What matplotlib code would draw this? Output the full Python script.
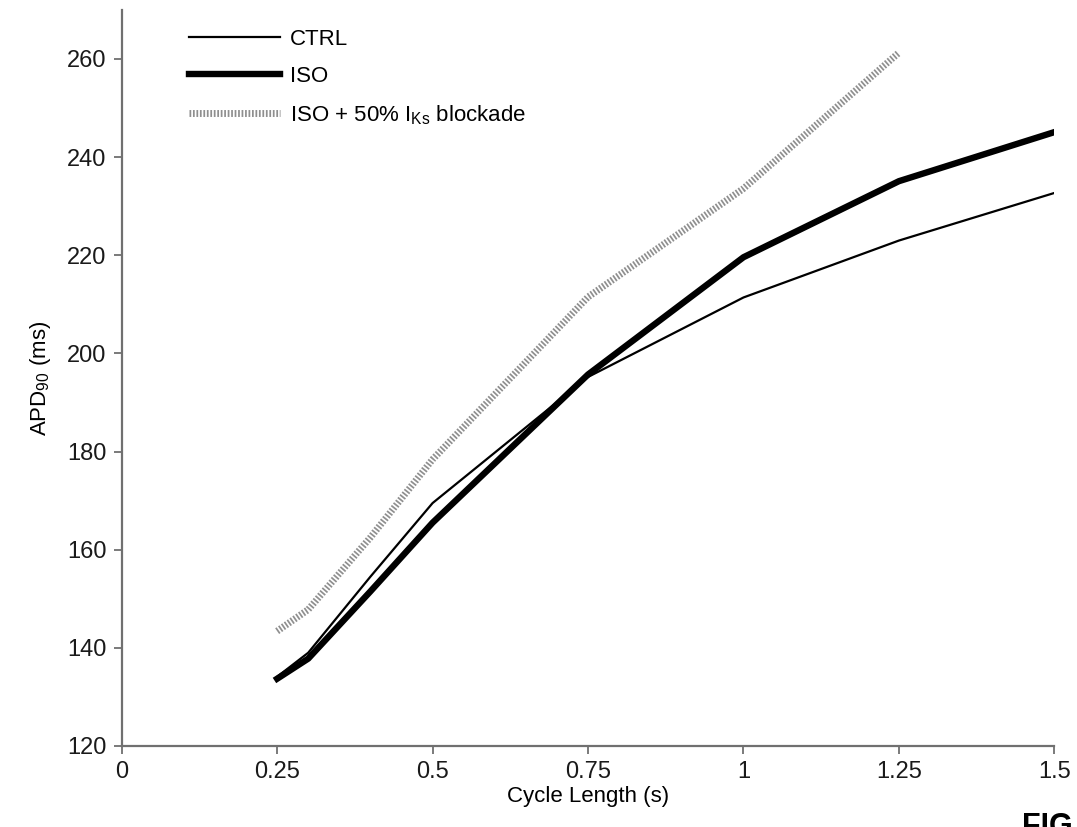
import numpy as np
from matplotlib import pyplot as plt

plt.rcParams['font.family'] = ['Liberation Sans', 'DejaVu Sans']
plt.rcParams['mathtext.default'] = 'regular'

# Cycle length (s) and APD90 (ms)
cycle_len = [0.25, 0.3, 0.4, 0.5, 0.75, 1.0, 1.25, 1.5]
apd_ctrl = [134.1, 139.0, 154.5, 169.5, 195.2, 211.4, 223.0, 232.7]
apd_iso = [133.7, 137.8, 151.5, 165.5, 195.7, 219.6, 235.1, 245.1]

cycle_len_blk = [0.25, 0.3, 0.4, 0.5, 0.75, 1.0, 1.25]
apd_iso_blk = [143.4, 147.8, 162.5, 178.4, 211.5, 233.6, 261.3]

x_ticks = [0, 0.25, 0.5, 0.75, 1, 1.25, 1.5]
x_tick_labels = ['0', '0.25', '0.5', '0.75', '1', '1.25', '1.5']
y_ticks = [120, 140, 160, 180, 200, 220, 240, 260]

fig = plt.figure(figsize=(10.77, 8.27), dpi=100)
ax = fig.add_axes([0.113, 0.098, 0.866, 0.890])

ax.plot(cycle_len, apd_ctrl, color='black', linewidth=1.6, label='CTRL')
ax.plot(cycle_len, apd_iso, color='black', linewidth=4.6, label='ISO')
ax.plot(cycle_len_blk, apd_iso_blk, color='#8f8f8f', linewidth=5,
        linestyle=(0, (0.25, 0.25)), dash_capstyle='butt',
        label='ISO + 50% I$_{Ks}$ blockade')

ax.set_xlim(0, 1.5)
ax.set_ylim(120, 270)
ax.set_xticks(x_ticks)
ax.set_xticklabels(x_tick_labels)
ax.set_yticks(y_ticks)

for side in ['top', 'right']:
    ax.spines[side].set_visible(False)
for side in ['left', 'bottom']:
    ax.spines[side].set_color('#707070')
    ax.spines[side].set_linewidth(1.6)

ax.tick_params(axis='both', direction='out', length=6, width=1.3,
               color='#707070', labelsize=17, pad=5, labelcolor='#1a1a1a')

ax.set_xlabel('Cycle Length (s)', fontsize=16, labelpad=2)
ax.set_ylabel('APD$_{90}$ (ms)', fontsize=16, labelpad=10)

ax.legend(loc='upper left', bbox_to_anchor=(0.055, 0.995), frameon=False,
          fontsize=16, handlelength=4.1, handletextpad=0.45,
          labelspacing=0.72, borderaxespad=0.3)

# figure label, cut off at the bottom edge as in the source
fig.text(1022 / 1077, 1 - 812 / 827, 'FIG', fontsize=22, fontweight='bold',
         va='top', ha='left')

plt.savefig('out.png', dpi=100)
